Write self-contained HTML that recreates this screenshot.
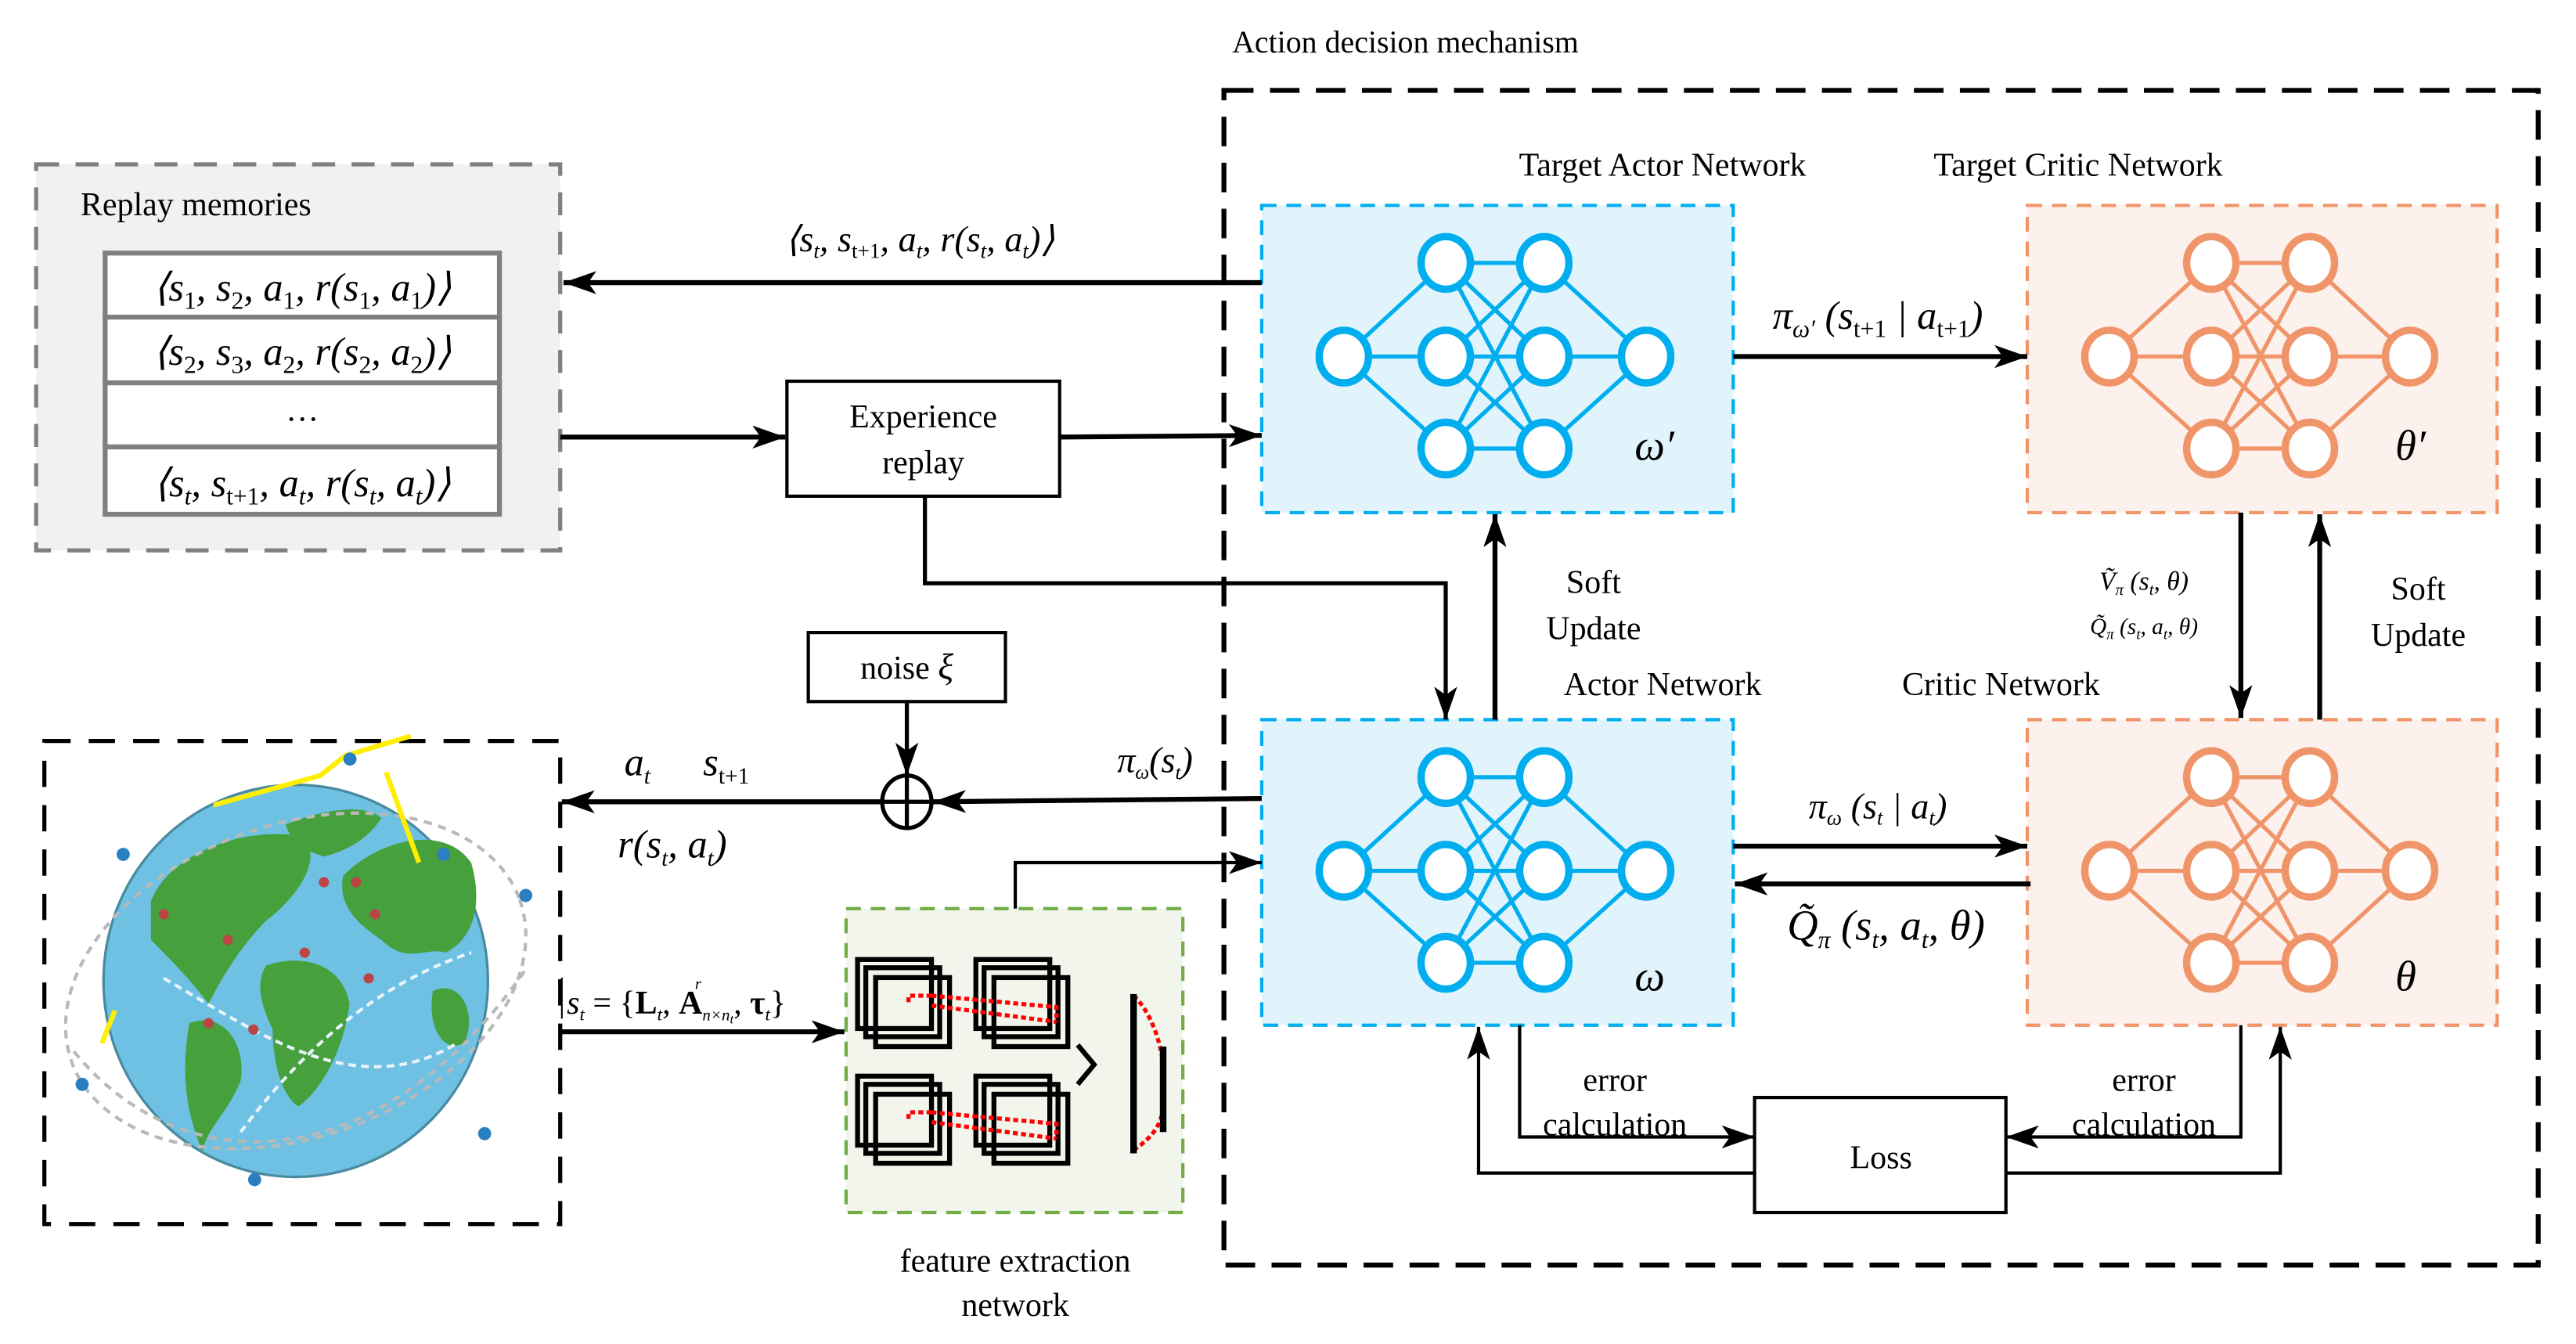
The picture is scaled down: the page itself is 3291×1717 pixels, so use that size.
<!DOCTYPE html>
<html><head><meta charset="utf-8"><style>
html,body{margin:0;padding:0;background:#fff;}
svg{display:block;}
text{font-family:"Liberation Serif",serif;fill:#000;}
.it{font-style:italic;}
</style></head><body>
<svg width="3291" height="1717" viewBox="0 0 1568 818" xmlns="http://www.w3.org/2000/svg">
<defs>
<marker id="ar" viewBox="0 0 20 14" refX="20" refY="7" markerWidth="20" markerHeight="14" markerUnits="userSpaceOnUse" orient="auto">
<path d="M0,0 L20,7 L0,14 L5,7 Z" fill="#000"/></marker>
<g id="netB">
<g stroke="#00aeef" stroke-width="2.5" fill="none">
<line x1="818" y1="217" x2="880" y2="160"/><line x1="818" y1="217" x2="880" y2="217"/><line x1="818" y1="217" x2="880" y2="273"/>
<line x1="880" y1="160" x2="940" y2="160"/><line x1="880" y1="160" x2="940" y2="217"/><line x1="880" y1="160" x2="940" y2="273"/>
<line x1="880" y1="217" x2="940" y2="160"/><line x1="880" y1="217" x2="940" y2="217"/><line x1="880" y1="217" x2="940" y2="273"/>
<line x1="880" y1="273" x2="940" y2="160"/><line x1="880" y1="273" x2="940" y2="217"/><line x1="880" y1="273" x2="940" y2="273"/>
<line x1="940" y1="160" x2="1002" y2="217"/><line x1="940" y1="217" x2="1002" y2="217"/><line x1="940" y1="273" x2="1002" y2="217"/>
</g>
<g stroke="#00aeef" stroke-width="4.5" fill="#fff">
<ellipse cx="818" cy="217" rx="15" ry="16"/>
<ellipse cx="880" cy="160" rx="15" ry="16"/><ellipse cx="880" cy="217" rx="15" ry="16"/><ellipse cx="880" cy="273" rx="15" ry="16"/>
<ellipse cx="940" cy="160" rx="15" ry="16"/><ellipse cx="940" cy="217" rx="15" ry="16"/><ellipse cx="940" cy="273" rx="15" ry="16"/>
<ellipse cx="1002" cy="217" rx="15" ry="16"/>
</g></g>
<g id="netO">
<g stroke="#f0956a" stroke-width="2.5" fill="none">
<line x1="1284" y1="217" x2="1346" y2="160"/><line x1="1284" y1="217" x2="1346" y2="217"/><line x1="1284" y1="217" x2="1346" y2="273"/>
<line x1="1346" y1="160" x2="1406" y2="160"/><line x1="1346" y1="160" x2="1406" y2="217"/><line x1="1346" y1="160" x2="1406" y2="273"/>
<line x1="1346" y1="217" x2="1406" y2="160"/><line x1="1346" y1="217" x2="1406" y2="217"/><line x1="1346" y1="217" x2="1406" y2="273"/>
<line x1="1346" y1="273" x2="1406" y2="160"/><line x1="1346" y1="273" x2="1406" y2="217"/><line x1="1346" y1="273" x2="1406" y2="273"/>
<line x1="1406" y1="160" x2="1467" y2="217"/><line x1="1406" y1="217" x2="1467" y2="217"/><line x1="1406" y1="273" x2="1467" y2="217"/>
</g>
<g stroke="#f0956a" stroke-width="4.5" fill="#fff">
<ellipse cx="1284" cy="217" rx="15" ry="16"/>
<ellipse cx="1346" cy="160" rx="15" ry="16"/><ellipse cx="1346" cy="217" rx="15" ry="16"/><ellipse cx="1346" cy="273" rx="15" ry="16"/>
<ellipse cx="1406" cy="160" rx="15" ry="16"/><ellipse cx="1406" cy="217" rx="15" ry="16"/><ellipse cx="1406" cy="273" rx="15" ry="16"/>
<ellipse cx="1467" cy="217" rx="15" ry="16"/>
</g></g>
<g id="sq"><g fill="none" stroke="#000" stroke-width="3">
<rect x="0" y="0" width="45" height="42"/><rect x="5" y="5" width="45" height="42"/><rect x="11" y="11" width="45" height="42"/></g></g>
</defs>

<text x="750" y="32" font-size="19">Action decision mechanism</text>
<rect x="745" y="55" width="800" height="715" fill="none" stroke="#000" stroke-width="3" stroke-dasharray="18,10"/>

<rect x="768" y="125" width="287" height="187" fill="#e2f4fb" stroke="#00aeef" stroke-width="2" stroke-dasharray="9,6"/>
<rect x="1234" y="125" width="286" height="187" fill="#fcf1ed" stroke="#f0956a" stroke-width="2" stroke-dasharray="9,6"/>
<rect x="768" y="438" width="287" height="186" fill="#e2f4fb" stroke="#00aeef" stroke-width="2" stroke-dasharray="9,6"/>
<rect x="1234" y="438" width="286" height="186" fill="#fcf1ed" stroke="#f0956a" stroke-width="2" stroke-dasharray="9,6"/>
<use href="#netB"/><use href="#netO"/>
<use href="#netB" transform="translate(0,313)"/><use href="#netO" transform="translate(0,313)"/>

<text x="1012" y="107" font-size="20" text-anchor="middle">Target Actor Network</text>
<text x="1265" y="107" font-size="20" text-anchor="middle">Target Critic Network</text>
<text x="1012" y="423" font-size="20" text-anchor="middle">Actor Network</text>
<text x="1218" y="423" font-size="20" text-anchor="middle">Critic Network</text>
<text x="995" y="280" font-size="26" class="it">ω′</text>
<text x="1458" y="280" font-size="26" class="it">θ′</text>
<text x="995" y="603" font-size="26" class="it">ω</text>
<text x="1458" y="603" font-size="26" class="it">θ</text>

<rect x="22" y="100" width="319" height="235" fill="#f1f1f1" stroke="#808080" stroke-width="2.5" stroke-dasharray="14,10"/>
<text x="49" y="131" font-size="20">Replay memories</text>
<g fill="#fff" stroke="#808080" stroke-width="3">
<rect x="64" y="154" width="240" height="39"/><rect x="64" y="193" width="240" height="40"/>
<rect x="64" y="233" width="240" height="39"/><rect x="64" y="272" width="240" height="41"/></g>
<g font-size="24" class="it" text-anchor="middle">
<text x="184" y="183">⟨s<tspan font-size="15" font-style="normal" dy="5">1</tspan><tspan dy="-5">, s</tspan><tspan font-size="15" font-style="normal" dy="5">2</tspan><tspan dy="-5">, a</tspan><tspan font-size="15" font-style="normal" dy="5">1</tspan><tspan dy="-5">, r(s</tspan><tspan font-size="15" font-style="normal" dy="5">1</tspan><tspan dy="-5">, a</tspan><tspan font-size="15" font-style="normal" dy="5">1</tspan><tspan dy="-5">)⟩</tspan></text>
<text x="184" y="222">⟨s<tspan font-size="15" font-style="normal" dy="5">2</tspan><tspan dy="-5">, s</tspan><tspan font-size="15" font-style="normal" dy="5">3</tspan><tspan dy="-5">, a</tspan><tspan font-size="15" font-style="normal" dy="5">2</tspan><tspan dy="-5">, r(s</tspan><tspan font-size="15" font-style="normal" dy="5">2</tspan><tspan dy="-5">, a</tspan><tspan font-size="15" font-style="normal" dy="5">2</tspan><tspan dy="-5">)⟩</tspan></text>
<text x="184" y="256" font-style="normal" font-size="20">…</text>
<text x="184" y="302">⟨s<tspan font-size="15" dy="5">t</tspan><tspan dy="-5">, s</tspan><tspan font-size="15" font-style="normal" dy="5">t+1</tspan><tspan dy="-5">, a</tspan><tspan font-size="15" dy="5">t</tspan><tspan dy="-5">, r(s</tspan><tspan font-size="15" dy="5">t</tspan><tspan dy="-5">, a</tspan><tspan font-size="15" dy="5">t</tspan><tspan dy="-5">)⟩</tspan></text>
</g>

<line x1="768" y1="172" x2="343" y2="172" stroke="#000" stroke-width="3" marker-end="url(#ar)"/>
<text x="560" y="153" font-size="22" class="it" text-anchor="middle">⟨s<tspan font-size="13" dy="4">t</tspan><tspan dy="-4">, s</tspan><tspan font-size="13" font-style="normal" dy="4">t+1</tspan><tspan dy="-4">, a</tspan><tspan font-size="13" dy="4">t</tspan><tspan dy="-4">, r(s</tspan><tspan font-size="13" dy="4">t</tspan><tspan dy="-4">, a</tspan><tspan font-size="13" dy="4">t</tspan><tspan dy="-4">)⟩</tspan></text>
<line x1="341" y1="266" x2="478" y2="266" stroke="#000" stroke-width="3" marker-end="url(#ar)"/>
<rect x="479" y="232" width="166" height="70" fill="#fff" stroke="#000" stroke-width="2"/>
<text x="562" y="260" font-size="20" text-anchor="middle">Experience</text>
<text x="562" y="288" font-size="20" text-anchor="middle">replay</text>
<line x1="645" y1="266" x2="768" y2="265" stroke="#000" stroke-width="3" marker-end="url(#ar)"/>
<polyline points="563,302 563,355 880,355 880,438" fill="none" stroke="#000" stroke-width="2.5" marker-end="url(#ar)"/>

<line x1="1055" y1="217" x2="1234" y2="217" stroke="#000" stroke-width="3" marker-end="url(#ar)"/>
<text x="1143" y="200" font-size="24" class="it" text-anchor="middle">π<tspan font-size="15" dy="5">ω′</tspan><tspan dy="-5"> (s</tspan><tspan font-size="15" font-style="normal" dy="5">t+1</tspan><tspan dy="-5"> | a</tspan><tspan font-size="15" font-style="normal" dy="5">t+1</tspan><tspan dy="-5">)</tspan></text>

<line x1="910" y1="438" x2="910" y2="313" stroke="#000" stroke-width="3" marker-end="url(#ar)"/>
<text x="970" y="361" font-size="20" text-anchor="middle">Soft</text>
<text x="970" y="389" font-size="20" text-anchor="middle">Update</text>
<line x1="1364" y1="312" x2="1364" y2="437" stroke="#000" stroke-width="3" marker-end="url(#ar)"/>
<line x1="1412" y1="438" x2="1412" y2="313" stroke="#000" stroke-width="3" marker-end="url(#ar)"/>
<text x="1472" y="365" font-size="20" text-anchor="middle">Soft</text>
<text x="1472" y="393" font-size="20" text-anchor="middle">Update</text>
<text x="1305" y="359" font-size="16" class="it" text-anchor="middle">Ṽ<tspan font-size="10" dy="3">π</tspan><tspan dy="-3"> (s</tspan><tspan font-size="10" dy="3">t</tspan><tspan dy="-3">, θ)</tspan></text>
<text x="1305" y="386" font-size="14" class="it" text-anchor="middle">Q̃<tspan font-size="9" dy="3">π</tspan><tspan dy="-3"> (s</tspan><tspan font-size="9" dy="3">t</tspan><tspan dy="-3">, a</tspan><tspan font-size="9" dy="3">t</tspan><tspan dy="-3">, θ)</tspan></text>

<line x1="1055" y1="515" x2="1234" y2="515" stroke="#000" stroke-width="3" marker-end="url(#ar)"/>
<text x="1143" y="498" font-size="22" class="it" text-anchor="middle">π<tspan font-size="13" dy="4">ω</tspan><tspan dy="-4"> (s</tspan><tspan font-size="13" dy="4">t</tspan><tspan dy="-4"> | a</tspan><tspan font-size="13" dy="4">t</tspan><tspan dy="-4">)</tspan></text>
<line x1="1236" y1="538" x2="1056" y2="538" stroke="#000" stroke-width="3" marker-end="url(#ar)"/>
<text x="1148" y="572" font-size="26" class="it" text-anchor="middle">Q̃<tspan font-size="15" dy="5">π</tspan><tspan dy="-5"> (s</tspan><tspan font-size="15" dy="5">t</tspan><tspan dy="-5">, a</tspan><tspan font-size="15" dy="5">t</tspan><tspan dy="-5">, θ)</tspan></text>

<rect x="492" y="385" width="120" height="42" fill="#fff" stroke="#000" stroke-width="2"/>
<text x="552" y="413" font-size="20" text-anchor="middle">noise <tspan class="it" font-size="22">ξ</tspan></text>
<line x1="552" y1="427" x2="552" y2="472" stroke="#000" stroke-width="2.5" marker-end="url(#ar)"/>
<ellipse cx="552" cy="488" rx="15" ry="16" fill="none" stroke="#000" stroke-width="2.5"/>
<line x1="537" y1="488" x2="567" y2="488" stroke="#000" stroke-width="2.5"/>
<line x1="552" y1="472" x2="552" y2="504" stroke="#000" stroke-width="2.5"/>
<line x1="768" y1="486" x2="568" y2="488" stroke="#000" stroke-width="3" marker-end="url(#ar)"/>
<line x1="537" y1="488" x2="342" y2="488" stroke="#000" stroke-width="3" marker-end="url(#ar)"/>
<text x="380" y="472" font-size="24" class="it">a<tspan font-size="14" dy="5">t</tspan></text>
<text x="428" y="472" font-size="24" class="it">s<tspan font-size="14" font-style="normal" dy="5">t+1</tspan></text>
<text x="376" y="522" font-size="24" class="it">r(s<tspan font-size="14" dy="5">t</tspan><tspan dy="-5">, a</tspan><tspan font-size="14" dy="5">t</tspan><tspan dy="-5">)</tspan></text>
<text x="680" y="470" font-size="22" class="it">π<tspan font-size="12" dy="4">ω</tspan><tspan dy="-4">(s</tspan><tspan font-size="12" dy="4">t</tspan><tspan dy="-4">)</tspan></text>

<rect x="27" y="451" width="314" height="294" fill="none" stroke="#000" stroke-width="2.5" stroke-dasharray="16,11"/>
<g transform="translate(180,597) scale(0.78) translate(-183,-602)">
<ellipse cx="183" cy="602" rx="150" ry="153" fill="#6ec1e2" stroke="#4a8aa0" stroke-width="2"/>
<g fill="#46a03c">
<path d="M70,540 C85,500 150,480 190,490 C205,510 180,540 160,555 C140,575 125,600 115,620 C100,600 85,585 70,570 Z"/>
<path d="M175,480 C200,470 235,462 250,475 C240,490 225,500 205,505 C190,500 180,495 175,480Z"/>
<path d="M220,520 C250,490 300,480 320,510 C330,545 320,570 300,580 C285,575 270,590 250,570 C235,560 215,545 220,520Z"/>
<path d="M160,590 C190,580 220,590 225,620 C220,660 200,690 185,700 C170,690 165,660 165,640 C158,625 150,605 160,590Z"/>
<path d="M100,635 C125,625 145,650 140,680 C130,705 115,715 110,735 C100,710 92,680 100,635Z"/>
<path d="M290,610 C310,600 325,625 315,650 C300,660 285,640 290,610Z"/>
</g>
<g fill="none" stroke="#e8f4fa" stroke-width="2.5" stroke-dasharray="6,4">
<path d="M80,600 C150,640 230,700 310,650"/><path d="M140,720 C200,640 260,600 320,580"/></g>
<g fill="#b44">
<circle cx="80" cy="550" r="4"/><circle cx="130" cy="570" r="4"/><circle cx="205" cy="525" r="4"/><circle cx="230" cy="525" r="4"/><circle cx="245" cy="550" r="4"/><circle cx="190" cy="580" r="4"/><circle cx="115" cy="635" r="4"/><circle cx="150" cy="640" r="4"/><circle cx="240" cy="600" r="4"/></g>
</g>
<g fill="none" stroke="#b9b9b9" stroke-width="2" stroke-dasharray="5,4">
<ellipse cx="180" cy="597" rx="145" ry="95" transform="rotate(-20 180 597)"/>
<path d="M45,640 C110,720 230,720 320,590"/>
</g>
<g stroke="#ffee00" stroke-width="3" fill="none">
<path d="M130,490 L195,472 L210,460 L250,448"/><path d="M235,470 L255,525"/><path d="M70,615 L62,635"/></g>
<g fill="#2a7fc0"><circle cx="75" cy="520" r="4"/><circle cx="213" cy="462" r="4"/><circle cx="320" cy="545" r="4"/><circle cx="50" cy="660" r="4"/><circle cx="295" cy="690" r="4"/><circle cx="155" cy="718" r="4"/><circle cx="270" cy="520" r="4"/></g>

<line x1="341" y1="628" x2="514" y2="628" stroke="#000" stroke-width="3" marker-end="url(#ar)"/>
<line x1="342" y1="595" x2="342" y2="620" stroke="#000" stroke-width="1"/>
<text x="345" y="617" font-size="20" class="it">s<tspan font-size="11" dy="4">t</tspan><tspan dy="-4" font-style="normal"> = {</tspan><tspan font-weight="bold" font-style="normal">L</tspan><tspan font-size="11" dy="4">t</tspan><tspan dy="-4" font-style="normal">, </tspan><tspan font-weight="bold" font-style="normal">A</tspan><tspan font-size="10" dy="4">n×n</tspan><tspan font-size="8" dy="2">t</tspan><tspan dy="-6" font-style="normal">, </tspan><tspan font-weight="bold" font-style="normal">τ</tspan><tspan font-size="11" dy="4">t</tspan><tspan dy="-4" font-style="normal">}</tspan></text>
<text x="423" y="602" font-size="10" class="it">r</text>

<rect x="515" y="553" width="205" height="185" fill="#f1f5eb" stroke="#70ad47" stroke-width="2" stroke-dasharray="9,6"/>
<use href="#sq" transform="translate(522,584)"/><use href="#sq" transform="translate(594,584)"/>
<use href="#sq" transform="translate(522,655)"/><use href="#sq" transform="translate(594,655)"/>
<g fill="none" stroke="#f00" stroke-width="2.5" stroke-dasharray="3,2">
<path d="M567,606 L553,606 L553,612 M567,606 L643,613 L643,622 M567,612 L643,622"/>
<path d="M567,677 L553,677 L553,683 M567,677 L643,684 L643,693 M567,683 L643,693"/>
<path d="M690,606 C705,620 710,650 708,660 M690,700 C705,690 710,680 708,660"/></g>
<path d="M656,636 L666,648 L656,660" fill="none" stroke="#000" stroke-width="3"/>
<rect x="688" y="605" width="4" height="97" fill="#000"/>
<rect x="706" y="637" width="4" height="52" fill="#000"/>
<text x="618" y="774" font-size="20" text-anchor="middle">feature extraction</text>
<text x="618" y="801" font-size="20" text-anchor="middle">network</text>
<polyline points="618,553 618,525 768,525" fill="none" stroke="#000" stroke-width="2" marker-end="url(#ar)"/>

<rect x="1068" y="668" width="153" height="70" fill="#fff" stroke="#000" stroke-width="2"/>
<text x="1145" y="711" font-size="20" text-anchor="middle">Loss</text>
<polyline points="925,624 925,692 1068,692" fill="none" stroke="#000" stroke-width="2" marker-end="url(#ar)"/>
<polyline points="1068,714 900,714 900,625" fill="none" stroke="#000" stroke-width="2" marker-end="url(#ar)"/>
<polyline points="1364,624 1364,692 1221,692" fill="none" stroke="#000" stroke-width="2" marker-end="url(#ar)"/>
<polyline points="1221,714 1388,714 1388,625" fill="none" stroke="#000" stroke-width="2" marker-end="url(#ar)"/>
<text x="983" y="664" font-size="20" text-anchor="middle">error</text>
<text x="983" y="691" font-size="20" text-anchor="middle">calculation</text>
<text x="1305" y="664" font-size="20" text-anchor="middle">error</text>
<text x="1305" y="691" font-size="20" text-anchor="middle">calculation</text>
</svg>
</body></html>
